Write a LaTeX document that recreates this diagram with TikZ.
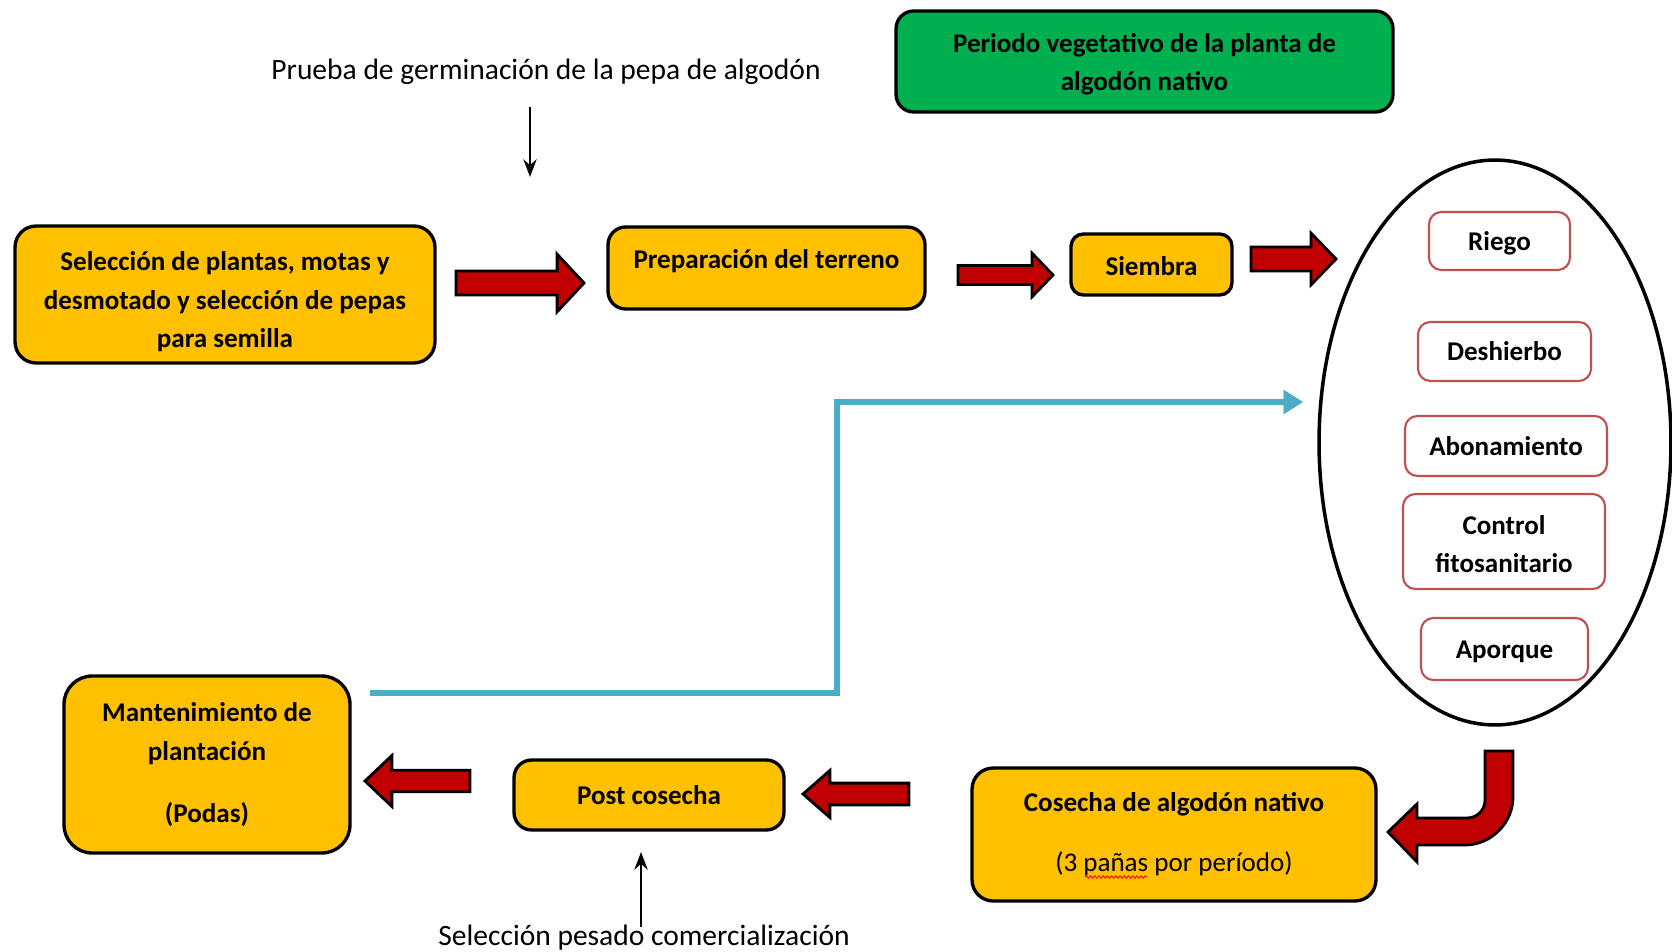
\documentclass[tikz,border=0pt]{standalone}
\usepackage{fontspec}
\setmainfont{Carlito}
\usetikzlibrary{calc,arrows.meta,shapes.geometric,decorations.pathmorphing}
\definecolor{orangeb}{HTML}{FFC000}
\definecolor{greenb}{HTML}{00B050}
\definecolor{darkredb}{HTML}{C00000}
\definecolor{blueb}{HTML}{4BACC6}
\definecolor{redline}{HTML}{C0504D}
\newcommand\boxfont{\bfseries\fontsize{15.4}{21.8}\selectfont}
\newcommand\freefont{\fontsize{16.8}{20}\selectfont}
\newcommand\blockarr[5]{%
  \coordinate (hb) at ($(#2)!#5!(#1)$);
  \draw[barrow] ([yshift=#3]#1) -- ([yshift=#3]hb) -- ([yshift=#4]hb) -- (#2) -- ([yshift=-#4]hb) -- ([yshift=-#3]hb) -- ([yshift=-#3]#1) -- cycle;}
\begin{document}
\begin{tikzpicture}[x=0.02cm,y=-0.02cm,
  obox/.style={draw=black, line width=1.9pt, fill=orangeb, rounded corners=12pt, align=center, font=\boxfont, inner sep=2pt},
  gbox/.style={draw=black, line width=1.9pt, fill=greenb, rounded corners=10pt, align=center, font=\boxfont, inner sep=2pt},
  rbox/.style={draw=redline, line width=1.2pt, fill=white, rounded corners=7pt, align=center, font=\boxfont, inner sep=2pt},
  barrow/.style={fill=darkredb, draw=black, line width=1.6pt, line join=miter},
  thinarrow/.style={draw=black, line width=1.6pt, -{Stealth[length=10pt,width=7.5pt]}},
  freetext/.style={font=\freefont, inner sep=0pt}
]
\useasboundingbox (0,0) rectangle (1672,952);

% free texts
\node[freetext] (ptext) at (546,72) {Prueba de germinación de la pepa de algodón};
\node[freetext] (stext) at (644,938) {Selección pesado comercialización};

% boxes
\node[gbox, minimum width=9.94cm, minimum height=2.02cm] (veg) at (1144.5,61.5) {\rule{0pt}{14pt}Periodo vegetativo de la planta de\\algodón nativo};
\node[obox, minimum width=8.4cm, minimum height=2.74cm] (sel) at (225,294.5) {\rule{0pt}{19pt}Selección de plantas, motas y\\desmotado y selección de pepas\\para semilla};
\node[obox, minimum width=6.34cm, minimum height=1.64cm, text depth=10pt, rounded corners=10pt] (prep) at (766.5,268) {Preparación del terreno};
\node[obox, minimum width=3.22cm, minimum height=1.22cm, rounded corners=7pt, text height=13pt] (siem) at (1151.5,264.5) {Siembra};
\node[obox, minimum width=8.08cm, minimum height=2.66cm] (cos) at (1174,834.5) {Cosecha de algodón nativo\\[12.5pt]{\mdseries (3 pañas por período)}};
\node[obox, minimum width=5.4cm, minimum height=1.4cm, rounded corners=10pt] (post) at (649,795) {Post cosecha};
\node[obox, minimum width=5.72cm, minimum height=3.54cm, rounded corners=16pt] (mant) at (207,764.5) {Mantenimiento de\\plantación\\[13.6pt](Podas)};

% spell-check squiggle under "pañas"
\coordinate (sq0) at (1085,877);
\coordinate (sq1) at (1147,877);
\draw[red, line width=0.5pt, decorate, decoration={snake, amplitude=0.7pt, segment length=2.4pt}] (sq0) -- (sq1);

% ellipse and its boxes
\node[draw=black, line width=2pt, ellipse, minimum width=7.04cm, minimum height=11.3cm, inner sep=0pt] (oval) at (1495,442.5) {};
\node[rbox, minimum width=2.82cm, minimum height=1.16cm, text height=13pt] (riego) at (1499.5,241) {Riego};
\node[rbox, minimum width=3.46cm, minimum height=1.18cm] (desh) at (1504.5,351.5) {Deshierbo};
\node[rbox, minimum width=4.04cm, minimum height=1.2cm] (abon) at (1506,446) {Abonamiento};
\node[rbox, minimum width=4.04cm, minimum height=1.9cm] (ctrl) at (1504,541.5) {\rule{0pt}{14pt}Control\\fitosanitario};
\node[rbox, minimum width=3.34cm, minimum height=1.24cm, text height=13pt] (apor) at (1504.5,649) {Aporque};

% thin arrows
\coordinate (d0) at (530,107);
\coordinate (d1) at (530,177);
\draw[thinarrow] (d0) -- (d1);
\coordinate (u0) at (641,927);
\coordinate (u1) at (641,852);
\draw[thinarrow] (u0) -- (u1);

% block arrows
\coordinate (a1s) at (456,283); \coordinate (a1e) at (584,283);
\blockarr{a1s}{a1e}{6.8pt}{16.4pt}{15.3pt}
\coordinate (a2s) at (958,275); \coordinate (a2e) at (1053,275);
\blockarr{a2s}{a2e}{5.4pt}{12.5pt}{12pt}
\coordinate (a3s) at (1251,259); \coordinate (a3e) at (1336,259);
\blockarr{a3s}{a3e}{6.8pt}{14.7pt}{14.2pt}
\coordinate (a4s) at (909,794); \coordinate (a4e) at (803,794);
\blockarr{a4s}{a4e}{6.2pt}{13.4pt}{15.3pt}
\coordinate (a5s) at (470,781); \coordinate (a5e) at (365,781);
\blockarr{a5s}{a5e}{6.1pt}{14.5pt}{15.3pt}

% U-turn block arrow
\draw[barrow] (1485,751) -- (1513,751) -- (1513,797) .. controls (1513,823) and (1491,845) .. (1465,845)
  -- (1417,845) -- (1417,862) -- (1388,832) -- (1417,804) -- (1417,818) -- (1467,818)
  .. controls (1477,818) and (1485,810) .. (1485,800) -- cycle;

% blue connector
\coordinate (bs) at (370,693);
\coordinate (bm) at (837,0);
\coordinate (be) at (1303,402);
\draw[gray!60, line width=3pt, -{Triangle[length=11pt,width=13pt]}, xshift=1.2pt, yshift=-1.8pt] (bs) -- (bs -| bm) |- (be);
\draw[blueb, line width=3pt, -{Triangle[length=11pt,width=13pt]}] (bs) -- (bs -| bm) |- (be);
\end{tikzpicture}
\end{document}
